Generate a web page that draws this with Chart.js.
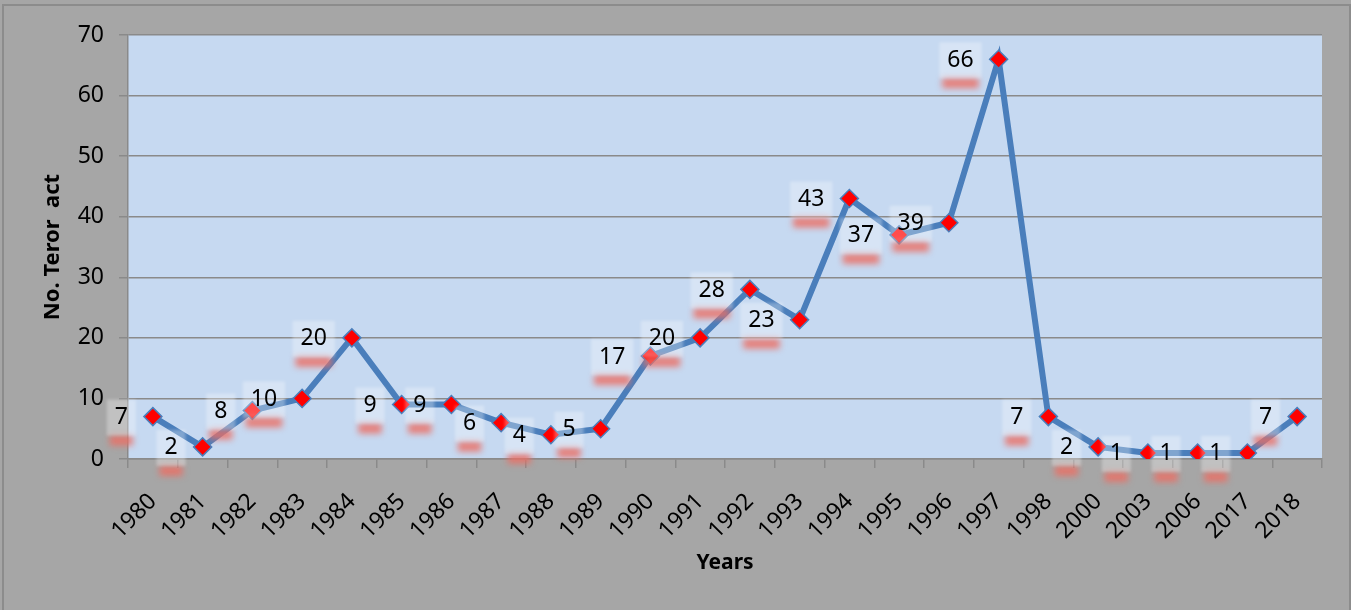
<!DOCTYPE html>
<html>
<head>
<meta charset="utf-8">
<script src="https://cdn.jsdelivr.net/npm/chart.js@4"></script>
<style>
  html, body { margin: 0; padding: 0; background: #a6a6a6; }
  #wrap { width: 1351px; height: 610px; position: relative; }
</style>
</head>
<body>
<div id="wrap"><canvas id="terrorChart"></canvas></div>
<script>
var years = ['1980', '1981', '1982', '1983', '1984', '1985', '1986', '1987', '1988', '1989',
             '1990', '1991', '1992', '1993', '1994', '1995', '1996', '1997', '1998', '2000',
             '2003', '2006', '2017', '2018'];
var terrorActs = [7, 2, 8, 10, 20, 9, 9, 6, 4, 5, 17, 20, 28, 23, 43, 37, 39, 66, 7, 2, 1, 1, 1, 7];
var yTicks = [0, 10, 20, 30, 40, 50, 60, 70];

var lineBlue = '#4a7ebb';
var gridGrey = '#8a8a8a';

// grey frame + light blue plot area
var backgroundPlugin = {
    id: 'backgroundPlugin',
    beforeDraw: function (chart) {
        var ctx = chart.ctx, a = chart.chartArea;
        ctx.save();
        ctx.fillStyle = '#a6a6a6';
        ctx.fillRect(0, 0, chart.width, chart.height);
        ctx.strokeStyle = '#8c8c8c';
        ctx.lineWidth = 2;
        ctx.beginPath();
        ctx.moveTo(3, chart.height);
        ctx.lineTo(3, 5);
        ctx.lineTo(chart.width - 1, 5);
        ctx.lineTo(chart.width - 1, chart.height);
        ctx.stroke();
        ctx.fillStyle = '#c6d9f1';
        ctx.fillRect(a.left, a.top, a.right - a.left, a.bottom - a.top);
        ctx.restore();
    }
};

// Excel style labels: to the left of the point, pale box with a red shadow underneath
var valueLabels = {
    id: 'valueLabels',
    afterDatasetsDraw: function (chart) {
        var ctx = chart.ctx;
        var meta = chart.getDatasetMeta(0);
        ctx.save();
        ctx.font = '23px "Noto Sans"';
        meta.data.forEach(function (pt, i) {
            var txt = String(chart.data.datasets[0].data[i]);
            var w = ctx.measureText(txt).width + 16;
            var h = 36;
            var right = pt.x - 17;
            var left = right - w;
            var top = pt.y - 17;

            ctx.save();
            ctx.filter = 'blur(3px)';
            ctx.fillStyle = 'rgba(235, 110, 100, 0.85)';
            ctx.fillRect(left + 3, top + h, w - 6, 10);
            ctx.restore();

            ctx.save();
            ctx.filter = 'blur(1.5px)';
            ctx.fillStyle = 'rgba(255, 255, 255, 0.3)';
            ctx.fillRect(left, top, w, h);
            ctx.restore();

            ctx.fillStyle = '#000000';
            ctx.textAlign = 'center';
            ctx.textBaseline = 'middle';
            ctx.fillText(txt, left + w / 2, pt.y + 1);
        });
        ctx.restore();
    }
};

var ctxLine = document.getElementById('terrorChart');
new Chart(ctxLine, {
    type: 'line',
    data: {
        labels: years,
        datasets: [{
            label: 'No. Teror act',
            data: terrorActs,
            borderColor: lineBlue,
            borderWidth: 6,
            tension: 0,
            fill: false,
            pointStyle: 'rectRot',
            pointRadius: 9,
            pointHoverRadius: 9,
            pointBackgroundColor: '#ff0000',
            pointBorderColor: lineBlue,
            pointBorderWidth: 1.5
        }]
    },
    options: {
        responsive: true,
        maintainAspectRatio: false,
        animation: false,
        layout: {
            padding: { top: 35, right: 29, left: 0, bottom: 0 }
        },
        plugins: {
            legend: { display: false },
            tooltip: { enabled: false }
        },
        scales: {
            x: {
                offset: true,
                afterFit: function (scale) { scale.height = 151; },
                grid: {
                    offset: true,
                    drawOnChartArea: false,
                    drawTicks: true,
                    tickLength: 9,
                    color: gridGrey,
                    lineWidth: 1.5
                },
                border: { color: gridGrey, width: 1.5 },
                ticks: {
                    color: '#000000',
                    font: { family: 'Noto Sans', size: 23 },
                    minRotation: 45,
                    maxRotation: 45,
                    autoSkip: false,
                    padding: 20
                },
                title: {
                    display: true,
                    text: 'Years',
                    color: '#000000',
                    font: { family: 'Noto Sans', size: 21, weight: 'bold' },
                    padding: { top: 0, bottom: 34 }
                }
            },
            y: {
                min: 0,
                max: 70,
                afterFit: function (scale) { scale.width = 128; },
                afterBuildTicks: function (scale) {
                    scale.ticks = yTicks.map(function (v) { return { value: v }; });
                },
                grid: {
                    color: gridGrey,
                    lineWidth: 1.5,
                    drawTicks: true,
                    tickLength: 9
                },
                border: { color: gridGrey, width: 1.5 },
                ticks: {
                    color: '#000000',
                    font: { family: 'Noto Sans', size: 23 },
                    padding: 15
                },
                title: {
                    display: true,
                    text: 'No. Teror  act',
                    color: '#000000',
                    font: { family: 'Noto Sans', size: 22, weight: 'bold' },
                    padding: { top: 40, bottom: 0 }
                }
            }
        }
    },
    plugins: [backgroundPlugin, valueLabels]
});
</script>
</body>
</html>
